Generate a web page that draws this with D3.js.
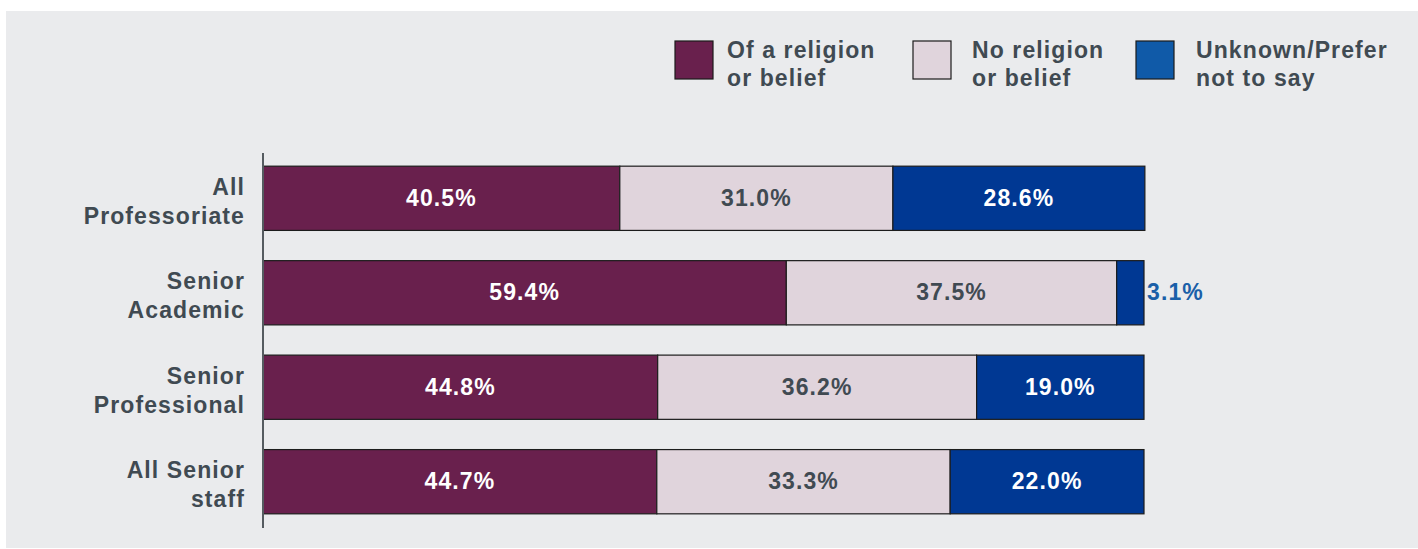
<!DOCTYPE html>
<html>
<head>
<meta charset="utf-8">
<script src="https://cdn.jsdelivr.net/npm/d3@7"></script>
<style>
  html, body { margin: 0; padding: 0; background: #ffffff; }
  svg { display: block; }
  text { font-family: "Liberation Sans", Arial, Helvetica, sans-serif; font-weight: bold; }
</style>
</head>
<body>
<svg id="chart" width="1418" height="549"></svg>
<script>
// Staff groups (each label split over two lines)
const categories = [
  ["All", "Professoriate"],
  ["Senior", "Academic"],
  ["Senior", "Professional"],
  ["All Senior", "staff"]
];
const seriesNames = [
  ["Of a religion", "or belief"],
  ["No religion", "or belief"],
  ["Unknown/Prefer", "not to say"]
];
// Percentages per group, in series order
const religionValues = [40.5, 59.4, 44.8, 44.7];
const noReligionValues = [31.0, 37.5, 36.2, 33.3];
const unknownValues = [28.6, 3.1, 19.0, 22.0];

const fills = ["#69204d", "#e0d4dc", "#003893"];
const legendFills = ["#69204d", "#e0d4dc", "#105aa8"];
const labelColors = ["#ffffff", "#404a52", "#ffffff"];
const textColor = "#404a52";
const fontSize = 23;
const spacing = 1.1;

const svg = d3.select("#chart");
const W = 1418, H = 549;

// panel background
svg.append("rect").attr("x", 6).attr("y", 11).attr("width", W - 6).attr("height", H - 12)
  .attr("fill", "#eaebed");

const rows = categories.map((c, i) => ({
  key: i,
  label: c,
  values: [religionValues[i], noReligionValues[i], unknownValues[i]]
}));

const x = d3.scaleLinear().domain([0, 100]).range([263, 1144]);
const y = d3.scaleBand().domain(rows.map(d => d.key)).range([152, 528]).paddingInner(0.32).paddingOuter(0.15);

// stacked segments
const stacked = rows.map(r => {
  let acc = 0;
  return r.values.map((v, j) => {
    const s = { row: r.key, series: j, x0: acc, x1: acc + v, v };
    acc += v;
    return s;
  });
});

const g = svg.append("g");
stacked.forEach(segs => {
  g.selectAll(null).data(segs).enter().append("rect")
    .attr("x", d => x(d.x0))
    .attr("y", d => y(d.row))
    .attr("width", d => x(d.x1) - x(d.x0))
    .attr("height", y.bandwidth())
    .attr("fill", d => fills[d.series])
    .attr("stroke", "#1c1c1c")
    .attr("stroke-width", 1.2);

  g.selectAll(null).data(segs).enter().append("text")
    .attr("x", d => d.v < 6 ? x(d.x1) + 3 : (x(d.x0) + x(d.x1)) / 2)
    .attr("y", d => y(d.row) + y.bandwidth() / 2)
    .attr("dy", "0.33em")
    .attr("text-anchor", d => d.v < 6 ? "start" : "middle")
    .attr("font-size", fontSize)
    .attr("letter-spacing", spacing)
    .attr("fill", d => d.v < 6 ? "#1a5fa8" : labelColors[d.series])
    .text(d => d.v.toFixed(1) + "%");
});

// vertical category axis line
svg.append("line")
  .attr("x1", x(0)).attr("x2", x(0))
  .attr("y1", 153).attr("y2", 528)
  .attr("stroke", "#555b60").attr("stroke-width", 2);

// category labels
rows.forEach(r => {
  const cy = y(r.key) + y.bandwidth() / 2 + 3;
  const t = svg.append("text")
    .attr("text-anchor", "end")
    .attr("font-size", fontSize)
    .attr("letter-spacing", spacing)
    .attr("fill", textColor);
  r.label.forEach((line, k) => {
    t.append("tspan").attr("x", 245).attr("y", cy + (k - 0.5) * 29).attr("dy", "0.34em").text(line);
  });
});

// legend
const legendX = [675, 913, 1136];
const legendTextX = [727, 972, 1196];
seriesNames.forEach((name, j) => {
  svg.append("rect")
    .attr("x", legendX[j]).attr("y", 41).attr("width", 38).attr("height", 38)
    .attr("fill", legendFills[j]).attr("stroke", "#1c1c1c").attr("stroke-width", 1.2);
  const t = svg.append("text").attr("font-size", fontSize).attr("letter-spacing", spacing).attr("fill", textColor);
  name.forEach((line, k) => {
    t.append("tspan").attr("x", legendTextX[j]).attr("y", 50 + k * 28).attr("dy", "0.34em").text(line);
  });
});
</script>
</body>
</html>
